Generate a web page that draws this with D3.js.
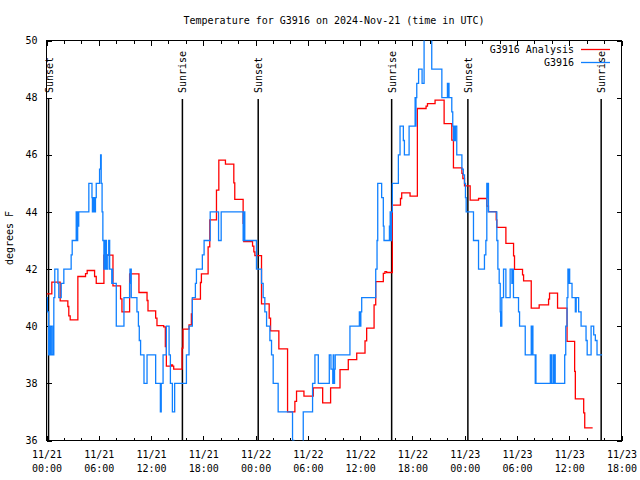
<!DOCTYPE html>
<html><head><meta charset="utf-8">
<script src="https://cdn.jsdelivr.net/npm/d3@7"></script>
<style>
body{margin:0;background:#fff}
text{font-family:"DejaVu Sans Mono",monospace;font-size:10px;fill:#000}
</style>
</head><body>
<svg id="chart" width="640" height="480"></svg>
<script>
// ---------- data ----------
const chartTitle = "Temperature for G3916 on 2024-Nov-21 (time in UTC)";
const yAxisLabel = "degrees F";
const startTime = "2024-11-21T00:00:00Z";
const endTime = "2024-11-23T18:00:00Z";
const yTicks = [36, 38, 40, 42, 44, 46, 48, 50];
const seriesNames = ["G3916 Analysis", "G3916"];
const seriesColors = ["#ff0000", "#1080ff"];

// hours after 2024-11-21 00:00 UTC
const analysisHours = [0,0.61,1.57,2.45,2.56,2.72,3.6,4.48,4.67,5.52,5.71,6.59,7.63,8.5,8.66,9.54,10.61,11.54,11.65,12.53,12.68,13.45,13.64,13.76,14.33,14.47,14.6,15.56,15.67,16.36,16.63,16.74,17.67,17.78,18.55,18.74,19.51,19.78,20.54,21.5,21.61,22.57,22.64,23.65,23.8,23.92,24.68,25.56,25.72,26.67,27.67,28.51,28.7,29.55,30.62,31.7,32.61,33.69,34.64,35.61,36.56,36.75,37.6,37.79,38.66,38.85,39.04,39.7,40.63,40.77,41.73,42.57,43.57,43.73,44.6,45.64,46.52,46.71,47.68,47.79,47.98,48.63,49.59,50.54,50.73,51.62,51.69,52.73,53.61,53.72,54.64,54.76,55.64,56.55,57.63,57.74,58.66,59.75,60.62,60.7,61.66,61.78,62.69];
const analysisTemps = [41.13,41.54,40.89,40.69,40.36,40.22,41.74,41.84,41.95,41.74,41.5,42.49,41.41,40.96,40.5,41.83,41.18,40.9,40.54,40.28,40.02,39.98,39.29,38.6,38.65,38.6,38.5,39.23,39.9,40.05,40.43,40.95,41.53,41.83,42.78,43.72,44.76,45.81,45.67,45.02,44.44,43.6,42.96,42.8,42.6,42.47,40.78,40.28,39.84,39.21,37.0,37.37,37.73,37.55,37.84,37.32,37.84,38.48,38.83,39.06,39.49,39.93,40.75,41.56,41.85,41.91,41.88,44.24,44.47,44.67,44.55,47.62,47.7,47.79,47.91,47.09,46.51,45.54,45.35,45.17,44.91,44.41,44.47,44.2,44.01,43.72,43.46,42.9,42.46,41.99,41.8,41.59,40.63,40.75,40.95,41.16,40.63,39.47,38.42,37.46,36.97,36.44,36.44];

const obsHours = [0,0.1,0.25,0.3,0.35,0.4,0.45,0.5,0.55,0.72,0.78,0.84,0.95,1.31,1.41,1.69,1.99,2.83,2.95,3.41,3.45,3.49,3.54,3.58,3.64,3.7,4.86,5.22,5.27,5.32,5.37,5.42,5.47,5.52,5.57,5.62,5.71,6.09,6.21,6.28,6.38,6.47,6.59,6.73,6.88,7.04,7.14,7.25,7.49,7.54,7.59,8.01,8.89,9.54,9.58,9.62,9.67,9.73,10.38,10.55,10.65,10.8,11.19,11.54,12.53,13.07,13.17,13.38,13.76,14.07,14.22,14.45,14.71,16.06,16.36,16.74,17.09,17.21,17.89,18.09,18.79,19.75,20.05,22.57,22.66,22.76,24.1,24.68,24.87,25.06,25.26,25.64,25.83,26.02,26.59,28.24,28.39,29.47,30.54,30.81,31.2,32.46,32.65,32.86,32.91,32.96,33.06,33.14,34.83,35.91,35.98,36.08,36.18,37.79,37.94,38.02,38.47,38.66,38.74,39.36,39.45,39.5,39.6,39.7,40.39,40.58,40.96,41.08,41.62,42.31,42.36,42.41,42.5,42.71,43.11,43.34,44.22,45.38,46.02,46.08,46.14,46.2,46.52,46.63,46.71,46.78,46.85,46.93,47.09,47.68,47.84,47.98,48.09,48.17,49.01,49.59,50.27,50.43,50.54,50.6,50.65,50.73,51.69,51.81,51.96,52.08,52.13,52.18,52.23,52.26,52.46,52.73,53.22,53.42,53.47,53.6,54.18,54.3,54.95,55.64,55.7,55.76,55.83,56.1,56.14,56.18,57.83,57.89,57.96,58.02,58.21,58.27,58.34,58.39,59.48,59.6,59.75,59.85,59.9,59.94,60.05,60.32,60.7,60.8,61.08,61.36,61.93,62.06,62.51,62.81,63.0,63.19,63.78];
const obsTemps = [41,40.5,39,40,39,40,39,40,39,40,39,41,42,41.5,41,41.5,42,42.5,43,44,43,44,43,44,43.5,44,45,44.5,44,44.5,44,44.5,44,44.5,44,44.5,45,45.5,46,45,44,43,42,43,42,42.5,43,42,41.5,42,41.5,40,41,41.5,42,41.5,42,41,40.5,40,39.5,39,38,39,38,37,38,39,40,39,38,37,38,39,40,41,41.5,42,42.5,43,44,43,44,43,44,43,42,41.5,41,40.5,40,39.5,39,38,37,36,35,37,38,39,38,39,38.5,38,39,38,38.5,39,40,40.5,40,40.5,41,42,43,45,44.5,43.5,43,43.5,44,43,44,45,46,47,46.5,46,47,48,47,48,48.5,49,48.5,50.5,49,48,48.5,48,48.5,48,47.5,47,46.5,47,46.5,47,46,45.5,45.3,45,44.5,44,43,42,42.5,43,45,44.5,45,44,43,42,41.5,40.5,40,40.5,40,41,42,41,42,41.5,42,41,40.5,40,39,40,39,40,39,38,39,38,39,38,39,38,39,38,39,38,39,40,41,42,41.5,42,41.5,41,40.5,41,40.5,40,39.5,39,40,39.7,39.5,39,39];

const sunTimes = ["2024-11-21T00:14:00Z","2024-11-21T15:36:00Z","2024-11-22T00:18:00Z","2024-11-22T15:37:00Z","2024-11-23T00:22:00Z","2024-11-23T15:40:00Z"];
const sunLabels = ["Sunset","Sunrise","Sunset","Sunrise","Sunset","Sunrise"];

// ---------- chart ----------
const svg = d3.select("#chart");
const L = 46.5, R = 621.5, T = 40.5, B = 440.5;
const t0 = new Date(startTime), t1 = new Date(endTime);
const x = d3.scaleUtc().domain([t0, t1]).range([L, R]);
const y = d3.scaleLinear().domain([36, 50]).range([B, T]);
const hr = h => new Date(t0.getTime() + h * 3600000);

svg.append("defs").append("clipPath").attr("id", "clip")
  .append("rect").attr("x", L).attr("y", T).attr("width", R - L).attr("height", B - T);

// title
svg.append("text").attr("x", 334).attr("y", 24).attr("text-anchor", "middle").text(chartTitle);
// y label
svg.append("text").attr("transform", "translate(13,238) rotate(-90)")
  .attr("text-anchor", "middle").text(yAxisLabel);

// ticks
const majorTicks = d3.utcHour.every(6).range(t0, new Date(t1.getTime() + 1));
const minorTicks = d3.utcHour.every(2).range(t0, new Date(t1.getTime() + 1));
const fmtDate = d3.utcFormat("%m/%d"), fmtTime = d3.utcFormat("%H:%M");

function styleAxis(g) {
  g.select(".domain").remove();
  g.selectAll("line").attr("stroke", "#000").attr("shape-rendering", "crispEdges");
}
// bottom minor & major
svg.append("g").attr("transform", `translate(0,${B})`)
  .call(d3.axisBottom(x).tickValues(minorTicks).tickSizeInner(-3).tickSizeOuter(0).tickFormat(""))
  .call(styleAxis);
const bx = svg.append("g").attr("transform", `translate(0,${B})`)
  .call(d3.axisBottom(x).tickValues(majorTicks).tickSizeInner(-5).tickSizeOuter(0).tickPadding(0))
  .call(styleAxis);
bx.selectAll("text").each(function(d) {
  const t = d3.select(this);
  t.text(null).attr("y", 0).attr("dy", null).attr("font-family", null).attr("font-size", null);
  t.append("tspan").attr("x", 0).attr("y", 17.5).text(fmtDate(d));
  t.append("tspan").attr("x", 0).attr("y", 31).text(fmtTime(d));
});
// top
svg.append("g").attr("transform", `translate(0,${T})`)
  .call(d3.axisTop(x).tickValues(minorTicks).tickSizeInner(-3).tickSizeOuter(0).tickFormat(""))
  .call(styleAxis);
svg.append("g").attr("transform", `translate(0,${T})`)
  .call(d3.axisTop(x).tickValues(majorTicks).tickSizeInner(-5).tickSizeOuter(0).tickFormat(""))
  .call(styleAxis);
// left
const ly = svg.append("g").attr("transform", `translate(${L},0)`)
  .call(d3.axisLeft(y).tickValues(yTicks).tickSizeInner(-5).tickSizeOuter(0).tickPadding(9).tickFormat(d3.format("d")))
  .call(styleAxis);
ly.selectAll("text").attr("font-family", null).attr("font-size", null);
// right
svg.append("g").attr("transform", `translate(${R},0)`)
  .call(d3.axisRight(y).tickValues(yTicks).tickSizeInner(-5).tickSizeOuter(0).tickFormat(""))
  .call(styleAxis);

// frame
svg.append("rect").attr("x", L).attr("y", T).attr("width", R - L).attr("height", B - T)
  .attr("fill", "none").attr("stroke", "#000").attr("stroke-width", 1).attr("shape-rendering", "crispEdges");

// sunrise / sunset
const sun = svg.append("g");
sunTimes.forEach((s, i) => {
  const sx = x(new Date(s));
  sun.append("line").attr("x1", sx).attr("x2", sx).attr("y1", 99).attr("y2", B)
    .attr("stroke", "#000").attr("stroke-width", 1.5);
  sun.append("text").attr("transform", `translate(${sx + 4},93) rotate(-90)`)
    .attr("text-anchor", "start").text(sunLabels[i]);
});

// series
const line = d3.line().x(d => x(hr(d[0]))).y(d => y(d[1])).curve(d3.curveStepAfter);
const analysis = analysisHours.map((h, i) => [h, analysisTemps[i]]);
const obs = obsHours.map((h, i) => [h, obsTemps[i]]);
const plot = svg.append("g").attr("clip-path", "url(#clip)");
plot.append("path").datum(analysis).attr("d", line).attr("fill", "none")
  .attr("stroke", seriesColors[0]).attr("stroke-width", 1.3);
plot.append("path").datum(obs).attr("d", line).attr("fill", "none")
  .attr("stroke", seriesColors[1]).attr("stroke-width", 1.3);

// legend
const leg = svg.append("g");
[0, 1].forEach(i => {
  const ly0 = 49.5 + i * 13;
  leg.append("text").attr("x", 574).attr("y", ly0 + 3.5).attr("text-anchor", "end").text(seriesNames[i]);
  leg.append("line").attr("x1", 581).attr("x2", 610).attr("y1", ly0).attr("y2", ly0)
    .attr("stroke", seriesColors[i]).attr("stroke-width", 1.3);
});
</script>
</body></html>
